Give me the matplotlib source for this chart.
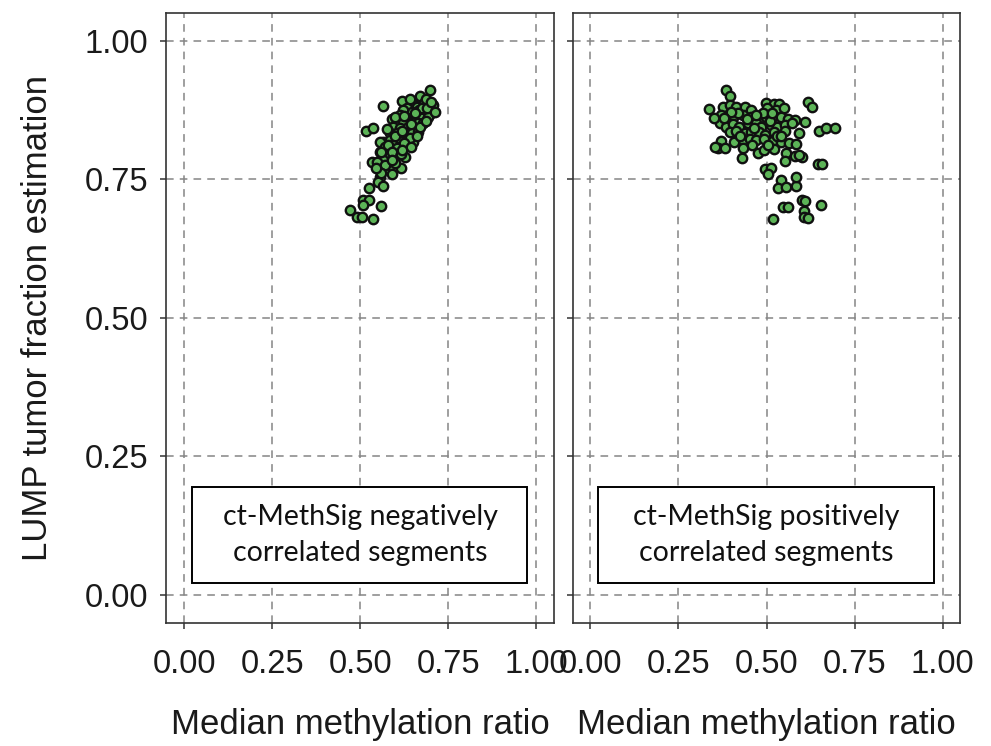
import matplotlib
matplotlib.use("Agg")
import matplotlib.pyplot as plt
from matplotlib.patches import Rectangle

# Negatively correlated segments: (median methylation ratio, LUMP fraction)
neg_x = [0.699, 0.669, 0.620, 0.565, 0.650, 0.662, 0.681, 0.707, 0.633, 0.698,
         0.667, 0.646, 0.622, 0.683, 0.702, 0.613, 0.589, 0.632, 0.655, 0.674,
         0.693, 0.603, 0.622, 0.646, 0.665, 0.679, 0.594, 0.613, 0.636, 0.655,
         0.516, 0.535, 0.584, 0.603, 0.627, 0.646, 0.665, 0.565, 0.584, 0.608,
         0.632, 0.650, 0.556, 0.570, 0.594, 0.613, 0.636, 0.556, 0.584, 0.603,
         0.627, 0.565, 0.532, 0.547, 0.580, 0.594, 0.615, 0.589, 0.556, 0.551,
         0.526, 0.565, 0.509, 0.526, 0.507, 0.558, 0.471, 0.492, 0.504, 0.535,
         0.640, 0.688, 0.676, 0.655, 0.690, 0.600, 0.625, 0.645, 0.670, 0.688,
         0.575, 0.598, 0.620, 0.640, 0.660, 0.580, 0.603, 0.625, 0.645, 0.560,
         0.590, 0.615, 0.570, 0.600, 0.590, 0.560, 0.545, 0.620, 0.700, 0.712]
neg_y = [0.912, 0.901, 0.891, 0.882, 0.886, 0.881, 0.887, 0.884, 0.878, 0.875,
         0.875, 0.872, 0.875, 0.869, 0.869, 0.866, 0.858, 0.860, 0.862, 0.860,
         0.863, 0.854, 0.852, 0.854, 0.851, 0.851, 0.845, 0.842, 0.845, 0.842,
         0.838, 0.842, 0.833, 0.833, 0.833, 0.834, 0.836, 0.818, 0.821, 0.821,
         0.821, 0.818, 0.818, 0.809, 0.812, 0.809, 0.812, 0.800, 0.793, 0.793,
         0.790, 0.784, 0.781, 0.781, 0.769, 0.769, 0.771, 0.760, 0.754, 0.745,
         0.735, 0.737, 0.712, 0.712, 0.703, 0.701, 0.695, 0.682, 0.682, 0.679,
         0.895, 0.895, 0.878, 0.870, 0.878, 0.862, 0.865, 0.850, 0.845, 0.856,
         0.840, 0.828, 0.838, 0.825, 0.828, 0.812, 0.806, 0.815, 0.808, 0.800,
         0.800, 0.795, 0.775, 0.780, 0.785, 0.762, 0.770, 0.803, 0.890, 0.872]

# Positively correlated segments
pos_x = [0.386, 0.397, 0.338, 0.617, 0.629, 0.376, 0.395, 0.414, 0.438, 0.456,
         0.499, 0.522, 0.535, 0.501, 0.527, 0.550, 0.372, 0.390, 0.409, 0.433,
         0.456, 0.480, 0.499, 0.522, 0.541, 0.560, 0.582, 0.610, 0.367, 0.384,
         0.404, 0.423, 0.447, 0.469, 0.485, 0.513, 0.529, 0.551, 0.572, 0.395,
         0.412, 0.438, 0.456, 0.480, 0.497, 0.522, 0.551, 0.593, 0.650, 0.669,
         0.372, 0.409, 0.433, 0.452, 0.471, 0.494, 0.518, 0.541, 0.565, 0.585,
         0.362, 0.381, 0.433, 0.475, 0.494, 0.522, 0.555, 0.582, 0.602, 0.431,
         0.551, 0.593, 0.645, 0.657, 0.497, 0.513, 0.504, 0.541, 0.532, 0.555,
         0.584, 0.585, 0.548, 0.560, 0.602, 0.610, 0.607, 0.607, 0.619, 0.655,
         0.518, 0.695, 0.420, 0.445, 0.465, 0.490, 0.510, 0.530, 0.400, 0.425,
         0.460, 0.505, 0.540, 0.380, 0.470, 0.515, 0.350, 0.355]
pos_y = [0.912, 0.900, 0.876, 0.890, 0.881, 0.880, 0.884, 0.881, 0.881, 0.875,
         0.887, 0.886, 0.886, 0.878, 0.875, 0.878, 0.866, 0.858, 0.864, 0.866,
         0.863, 0.858, 0.863, 0.864, 0.862, 0.858, 0.857, 0.854, 0.852, 0.845,
         0.850, 0.845, 0.851, 0.852, 0.845, 0.848, 0.845, 0.848, 0.851, 0.836,
         0.838, 0.833, 0.836, 0.836, 0.830, 0.836, 0.838, 0.833, 0.838, 0.842,
         0.819, 0.818, 0.821, 0.822, 0.821, 0.822, 0.819, 0.818, 0.816, 0.813,
         0.806, 0.806, 0.806, 0.798, 0.803, 0.804, 0.798, 0.792, 0.790, 0.789,
         0.783, 0.794, 0.778, 0.778, 0.769, 0.771, 0.759, 0.749, 0.735, 0.736,
         0.737, 0.754, 0.700, 0.700, 0.712, 0.711, 0.693, 0.682, 0.681, 0.703,
         0.679, 0.842, 0.870, 0.858, 0.842, 0.870, 0.855, 0.828, 0.872, 0.828,
         0.812, 0.812, 0.828, 0.860, 0.866, 0.870, 0.860, 0.808]

ticks = [0.00, 0.25, 0.50, 0.75, 1.00]
tick_labels = ["0.00", "0.25", "0.50", "0.75", "1.00"]
panel_titles = ["ct-MethSig negatively\ncorrelated segments",
                "ct-MethSig positively\ncorrelated segments"]

FS = 23.5
LFS = 25
fig = plt.figure(figsize=(9.91, 7.46), dpi=100)
ax_l = fig.add_axes([0.168, 0.1655, 0.391, 0.817])
ax_r = fig.add_axes([0.578, 0.1655, 0.391, 0.817])

frame_col = "#333333"
for ax, xs, ys, title in [(ax_l, neg_x, neg_y, panel_titles[0]),
                          (ax_r, pos_x, pos_y, panel_titles[1])]:
    ax.set_xlim(-0.05, 1.05)
    ax.set_ylim(-0.05, 1.05)
    ax.set_xticks(ticks)
    ax.set_yticks(ticks)
    ax.set_xticklabels(tick_labels, fontsize=FS, family="Liberation Sans",
                       color="#1a1a1a")
    ax.grid(True, linestyle=(0, (5, 4)), color="#858585", linewidth=1.1)
    ax.set_axisbelow(True)
    for sp in ax.spines.values():
        sp.set_color(frame_col)
        sp.set_linewidth(1.2)
    ax.tick_params(axis="both", direction="out", length=4, width=1.1,
                   color=frame_col, pad=15)
    ax.scatter(xs, ys, s=46, c="#5cb457", edgecolors="#101010",
               linewidths=1.7, zorder=3)
    ax.set_xlabel("Median methylation ratio", fontsize=LFS,
                  family="Liberation Sans", labelpad=20, color="#1a1a1a")
    # annotation box with the segment group name
    ax.add_patch(Rectangle((0.066, 0.065), 0.865, 0.157,
                           transform=ax.transAxes, facecolor="white",
                           edgecolor="black", linewidth=1.4, zorder=4))
    ax.text(0.5, 0.1435, title, transform=ax.transAxes, ha="center",
            va="center", fontsize=20.5, family="Lato", linespacing=1.45,
            color="#111111", zorder=5)

ax_l.set_yticklabels(tick_labels, fontsize=FS, family="Liberation Sans",
                     color="#1a1a1a")
ax_l.tick_params(axis="y", pad=9)
ax_l.set_ylabel("LUMP tumor fraction estimation", fontsize=LFS,
                family="Liberation Sans", labelpad=22, color="#1a1a1a")
ax_r.set_yticklabels([])

fig.savefig("out.png", dpi=100)
